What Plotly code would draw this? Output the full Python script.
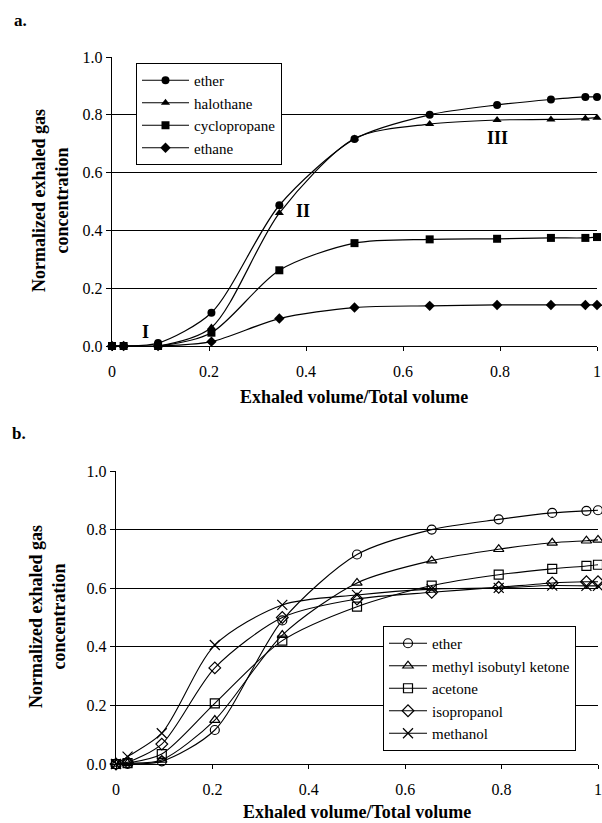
import plotly.graph_objects as go

# ---- data ----
x_vals = [0, 0.024, 0.095, 0.205, 0.345, 0.50, 0.655, 0.794, 0.905, 0.976, 1.0]

a_ether = [0, 0, 0.01, 0.115, 0.487, 0.716, 0.80, 0.834, 0.853, 0.862, 0.862]
a_halothane = [0, 0, 0, 0.064, 0.46, 0.718, 0.768, 0.782, 0.784, 0.787, 0.79]
a_cyclopropane = [0, 0, 0, 0.046, 0.262, 0.356, 0.369, 0.371, 0.374, 0.374, 0.377]
a_ethane = [0, 0, 0, 0.015, 0.095, 0.133, 0.139, 0.142, 0.142, 0.142, 0.142]

b_ether = [0, 0, 0.009, 0.116, 0.49, 0.715, 0.80, 0.835, 0.857, 0.864, 0.866]
b_mibk = [0, 0.002, 0.014, 0.15, 0.44, 0.618, 0.694, 0.733, 0.755, 0.762, 0.765]
b_acetone = [0, 0.003, 0.034, 0.207, 0.421, 0.537, 0.609, 0.646, 0.666, 0.676, 0.68]
b_isopropanol = [0, 0.006, 0.068, 0.328, 0.50, 0.563, 0.586, 0.603, 0.618, 0.622, 0.622]
b_methanol = [0, 0.025, 0.105, 0.406, 0.543, 0.577, 0.597, 0.601, 0.609, 0.608, 0.608]

y_ticks = [0, 0.2, 0.4, 0.6, 0.8, 1.0]
x_ticks = [0, 0.2, 0.4, 0.6, 0.8, 1.0]
x_ticktext = ["0", "0.2", "0.4", "0.6", "0.8", "1"]

FONT = "Liberation Serif, Tinos, Times New Roman, DejaVu Serif, serif"
W, H = 602, 823

fig = go.Figure()

a_series = [("ether", a_ether, "circle"), ("halothane", a_halothane, "triangle-up"),
            ("cyclopropane", a_cyclopropane, "square"), ("ethane", a_ethane, "diamond")]
for name, ys, sym in a_series:
    fig.add_trace(go.Scatter(x=x_vals, y=ys, name=name, mode="lines+markers",
                             line=dict(color="black", width=1.2, shape="spline", smoothing=0.8),
                             marker=dict(symbol=sym, size=8, color="black"),
                             xaxis="x", yaxis="y", legend="legend", cliponaxis=False))

b_series = [("ether", b_ether, "circle-open", 9), ("methyl isobutyl ketone", b_mibk, "triangle-up-open", 9),
            ("acetone", b_acetone, "square-open", 9), ("isopropanol", b_isopropanol, "diamond-open", 9),
            ("methanol", b_methanol, "x-thin-open", 10)]
for name, ys, sym, sz in b_series:
    fig.add_trace(go.Scatter(x=x_vals, y=ys, name=name, mode="lines+markers",
                             line=dict(color="black", width=1.1, shape="spline", smoothing=0.8),
                             marker=dict(symbol=sym, size=sz, color="black",
                                         line=dict(color="black", width=1.2)),
                             xaxis="x2", yaxis="y2", legend="legend2", cliponaxis=False))

def px_x(p):
    return p / W

def px_y(p):
    return 1 - p / H

axis_common = dict(range=[0, 1], showline=True, linecolor="black", linewidth=1.4,
                   ticks="outside", ticklen=5, tickcolor="black", automargin=False,
                   tickfont=dict(family=FONT, size=16, color="black"), fixedrange=True)

xa = dict(axis_common, tickvals=x_ticks, ticktext=x_ticktext,
          showgrid=False, zeroline=False, ticklabeloverflow="allow", ticklen=4,
          ticklabelstandoff=6)
ya = dict(axis_common, tickvals=y_ticks, tickformat=".1f", showgrid=True,
          gridcolor="black", gridwidth=1, zeroline=False)

fig.update_layout(
    width=W, height=H,
    margin=dict(l=0, r=0, t=0, b=0, pad=0, autoexpand=False),
    paper_bgcolor="white", plot_bgcolor="white",
    font=dict(family=FONT, color="black"),
    xaxis=dict(xa, domain=[px_x(112), px_x(597)], anchor="y"),
    yaxis=dict(ya, domain=[px_y(346), px_y(57)], anchor="x"),
    xaxis2=dict(xa, domain=[px_x(116), px_x(598)], anchor="y2"),
    yaxis2=dict(ya, domain=[px_y(764), px_y(471)], anchor="x2"),
    legend=dict(x=px_x(136), y=px_y(63), xanchor="left", yanchor="top",
                bgcolor="white", bordercolor="black", borderwidth=1,
                font=dict(family=FONT, size=15, color="black"),
                tracegroupgap=0, itemwidth=47),
    legend2=dict(x=px_x(383), y=px_y(626), xanchor="left", yanchor="top",
                 bgcolor="white", bordercolor="black", borderwidth=1,
                 font=dict(family=FONT, size=15, color="black"),
                 tracegroupgap=0, itemwidth=38),
    showlegend=True,
)

ann = []
def text(x, y, t, size=18, angle=0):
    ann.append(dict(x=x, y=y, xref="paper", yref="paper", text=t, showarrow=False,
                    textangle=angle, font=dict(family=FONT, size=size, color="black"),
                    xanchor="center", yanchor="middle"))

text(px_x(20), px_y(21), "<b>a.</b>", 17)
text(px_x(19), px_y(433), "<b>b.</b>", 17)
text(px_x(354), px_y(397), "<b>Exhaled volume/Total volume</b>", 18)
text(px_x(357), px_y(812), "<b>Exhaled volume/Total volume</b>", 18)
text(px_x(50), px_y(201), "<b>Normalized exhaled gas<br>concentration</b>", 18, angle=-90)
text(px_x(47), px_y(617), "<b>Normalized exhaled gas<br>concentration</b>", 18, angle=-90)
# phase labels
for lx, ly, lt in [(0.069, 0.05, "I"), (0.393, 0.466, "II"), (0.795, 0.72, "III")]:
    ann.append(dict(x=lx, y=ly, xref="x", yref="y", text="<b>" + lt + "</b>", showarrow=False,
                    font=dict(family=FONT, size=18, color="black")))
fig.update_layout(annotations=ann)

fig.write_html("out.html",
               config={"displayModeBar": False, "staticPlot": True},
               post_script="document.body.style.margin='0px';"
                           "document.body.style.overflow='hidden';"
                           "document.documentElement.style.overflow='hidden';")
